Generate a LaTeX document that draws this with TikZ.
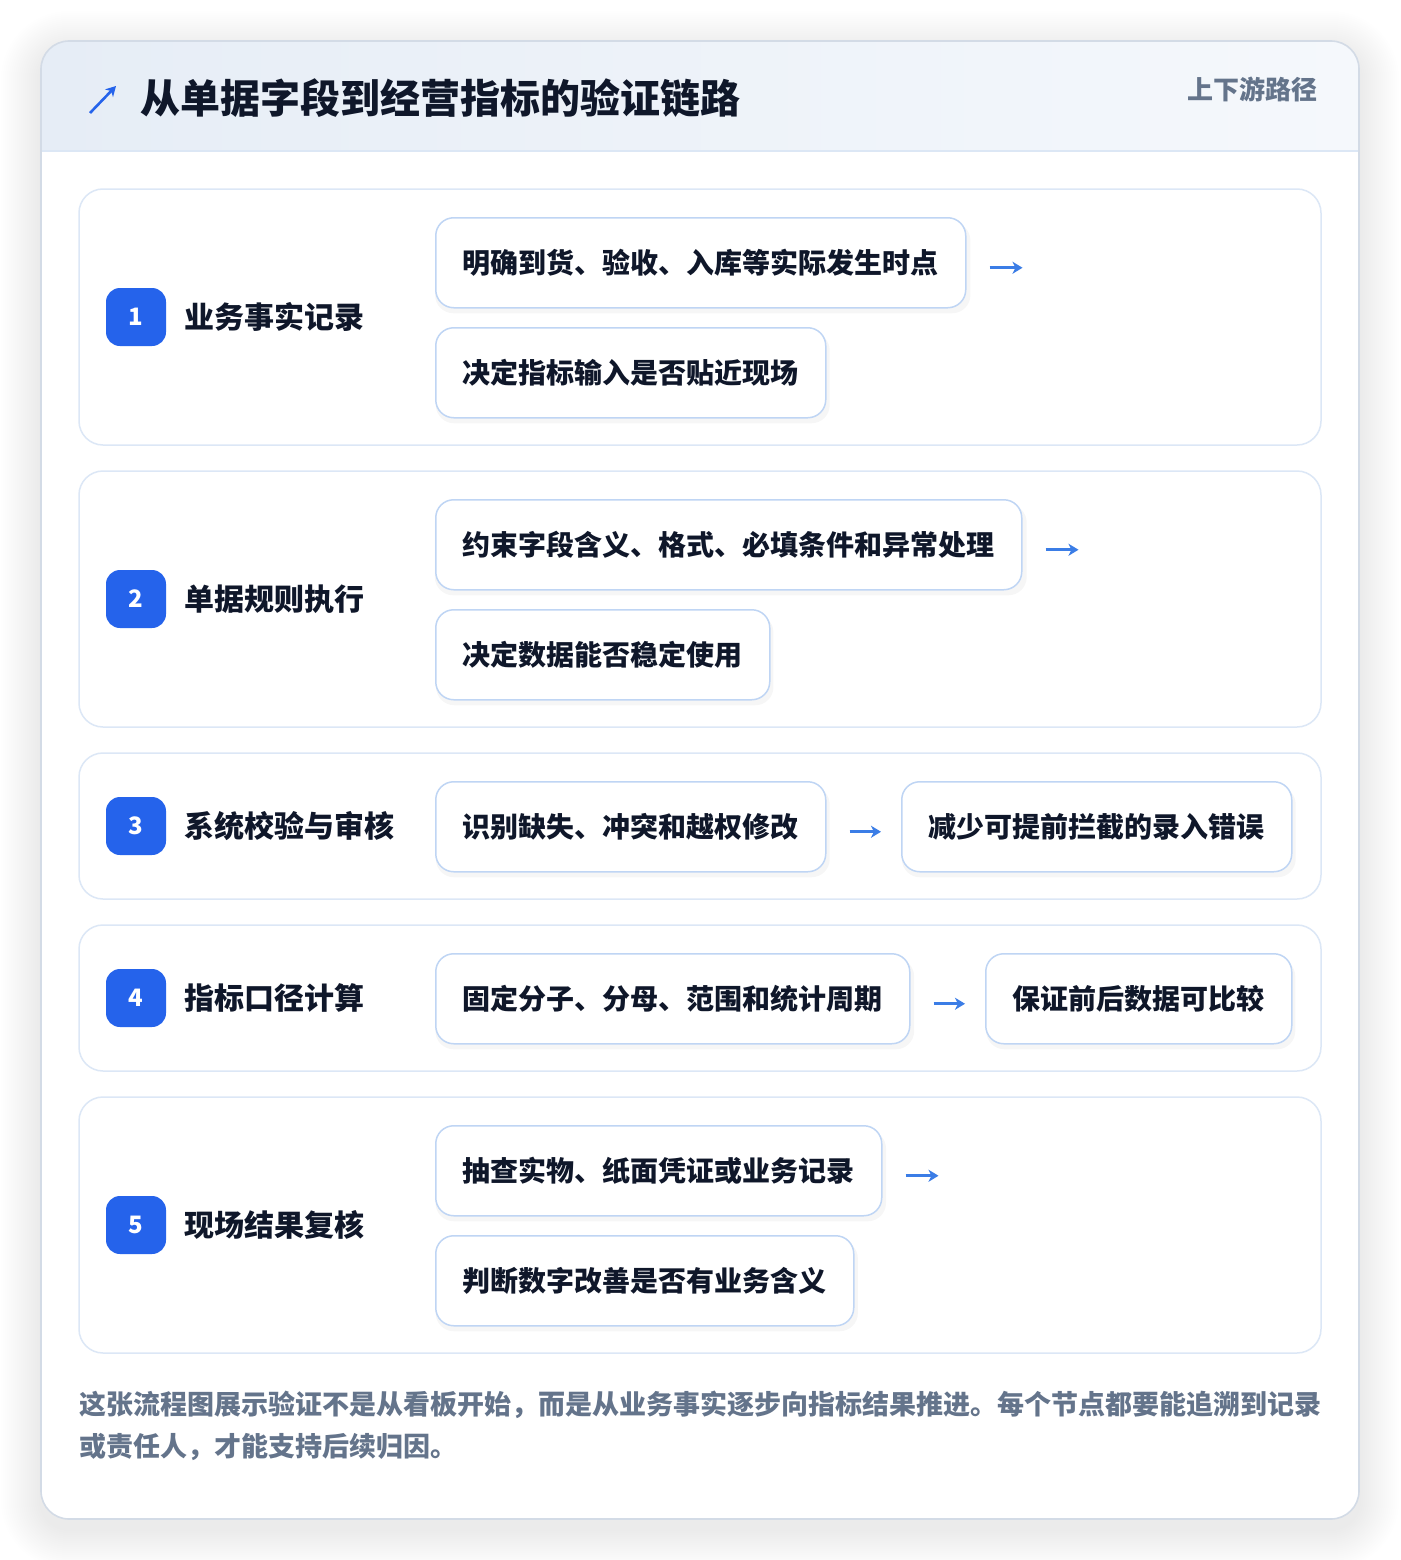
\documentclass[tikz,border=0pt]{standalone}
\usepackage{fontspec}
\setmainfont{Noto Sans CJK SC}
\usetikzlibrary{shadows,arrows.meta,calc}
\definecolor{cardborder}{HTML}{D3DBE6}
\definecolor{hdrL}{HTML}{E6EDF6}
\definecolor{hdrR}{HTML}{F5F8FC}
\definecolor{hdrline}{HTML}{DCE7F5}
\definecolor{secborder}{HTML}{DCE7F6}
\definecolor{itemborder}{HTML}{BFD5F4}
\definecolor{badgeblue}{HTML}{2563EB}
\definecolor{ink}{HTML}{0F172A}
\definecolor{muted}{HTML}{64748B}
\definecolor{arrowc}{HTML}{3B7DE6}
\tikzset{
  secbox/.style={draw=secborder, line width=1.5pt, fill=white, rounded corners=24pt},
  badgebox/.style={fill=badgeblue, rounded corners=14pt, minimum width=60pt, minimum height=58pt,
    inner sep=0pt, text=white, font=\fontsize{24}{24}\selectfont\bfseries},
  seclabel/.style={anchor=west, inner sep=0pt, text=ink, font=\fontsize{30}{36}\selectfont\bfseries},
  itembox/.style={draw=itemborder, line width=1.5pt, fill=white, rounded corners=18pt,
    minimum height=90pt, inner xsep=27pt, inner ysep=0pt, anchor=north west, text=ink,
    font=\fontsize{28}{34}\selectfont\bfseries,
    drop shadow={shadow xshift=2pt, shadow yshift=-5pt, opacity=0.035, fill=black, shadow scale=1.01}},
  flowarrow/.style={draw=arrowc, line width=2.6pt, -{Stealth[length=10pt,width=12pt,inset=3pt]}},
  foottext/.style={anchor=west, inner sep=0pt, text=muted, font=\fontsize{27}{42}\selectfont\bfseries},
}
\begin{document}
\begin{tikzpicture}[x=1pt,y=-1pt]
\useasboundingbox (0,0) rectangle (1400,1560);
\fill[white] (0,0) rectangle (1400,1560);
% card shadow
\foreach \i in {2,4,...,40}{
  \pgfmathsetmacro{\rr}{28+\i}
  \fill[black, opacity=0.0045, rounded corners=\rr pt] (41-\i,41-\i+10) rectangle (1359+\i,1519+\i+10);
}
% card
\fill[white, rounded corners=28pt] (41,41) rectangle (1359,1519);
\begin{scope}
  \clip[rounded corners=28pt] (41,41) rectangle (1359,1519);
  \shade[left color=hdrL, right color=hdrR] (41,41) rectangle (1359,151);
\end{scope}
\draw[hdrline, line width=1.5pt] (41,151) -- (1359,151);
\draw[cardborder, line width=1.6pt, rounded corners=28pt] (41,41) rectangle (1359,1519);
% title
\coordinate (ta) at (90,113);
\coordinate (tb) at (116,86);
\draw[draw=badgeblue, line width=2.6pt, -{Stealth[length=10pt,width=11pt,inset=3pt]}] (ta) -- (tb);
\node[anchor=west, inner sep=0pt, text=ink, font=\fontsize{40}{48}\selectfont\bfseries] (title) at (140,98) {从单据字段到经营指标的验证链路};
\node[anchor=east, inner sep=0pt, text=muted, font=\fontsize{26}{30}\selectfont\bfseries] (tag) at (1318,89) {上下游路径};

% sections
\draw[secbox] (79,189) rectangle (1321,445);
\draw[secbox] (79,471) rectangle (1321,727);
\draw[secbox] (79,753) rectangle (1321,899);
\draw[secbox] (79,925) rectangle (1321,1071);
\draw[secbox] (79,1097) rectangle (1321,1353);

% section 1
\node[badgebox] (n1) at (136,317) {1};
\node[seclabel] (l1) at (184,317) {业务事实记录};
\node[itembox] (b11) at (435,217) {明确到货、验收、入库等实际发生时点};
\node[itembox] (b12) at (435,327) {决定指标输入是否贴近现场};
\coordinate (a1s) at ($(b11.east)+(23,5)$);
\coordinate (a1e) at ($(b11.east)+(56,5)$);
\draw[flowarrow] (a1s) -- (a1e);

% section 2
\node[badgebox] (n2) at (136,599) {2};
\node[seclabel] (l2) at (184,599) {单据规则执行};
\node[itembox] (b21) at (435,499) {约束字段含义、格式、必填条件和异常处理};
\node[itembox] (b22) at (435,609) {决定数据能否稳定使用};
\coordinate (a2s) at ($(b21.east)+(23,5)$);
\coordinate (a2e) at ($(b21.east)+(56,5)$);
\draw[flowarrow] (a2s) -- (a2e);

% section 3
\node[badgebox] (n3) at (136,826) {3};
\node[seclabel] (l3) at (184,826) {系统校验与审核};
\node[itembox] (b31) at (435,781) {识别缺失、冲突和越权修改};
\node[itembox] (b32) at (901,781) {减少可提前拦截的录入错误};
\draw[flowarrow] ($(b31.east)+(23,5)$) -- ($(b32.west)+(-20,5)$);

% section 4
\node[badgebox] (n4) at (136,998) {4};
\node[seclabel] (l4) at (184,998) {指标口径计算};
\node[itembox] (b41) at (435,953) {固定分子、分母、范围和统计周期};
\node[itembox] (b42) at (985,953) {保证前后数据可比较};
\draw[flowarrow] ($(b41.east)+(23,5)$) -- ($(b42.west)+(-20,5)$);

% section 5
\node[badgebox] (n5) at (136,1225) {5};
\node[seclabel] (l5) at (184,1225) {现场结果复核};
\node[itembox] (b51) at (435,1125) {抽查实物、纸面凭证或业务记录};
\node[itembox] (b52) at (435,1235) {判断数字改善是否有业务含义};
\coordinate (a5s) at ($(b51.east)+(23,5)$);
\coordinate (a5e) at ($(b51.east)+(56,5)$);
\draw[flowarrow] (a5s) -- (a5e);

% footer
\node[foottext] (f1) at (79,1405) {这张流程图展示验证不是从看板开始，而是从业务事实逐步向指标结果推进。每个节点都要能追溯到记录};
\node[foottext] (f2) at (79,1447) {或责任人，才能支持后续归因。};
\end{tikzpicture}
\end{document}
